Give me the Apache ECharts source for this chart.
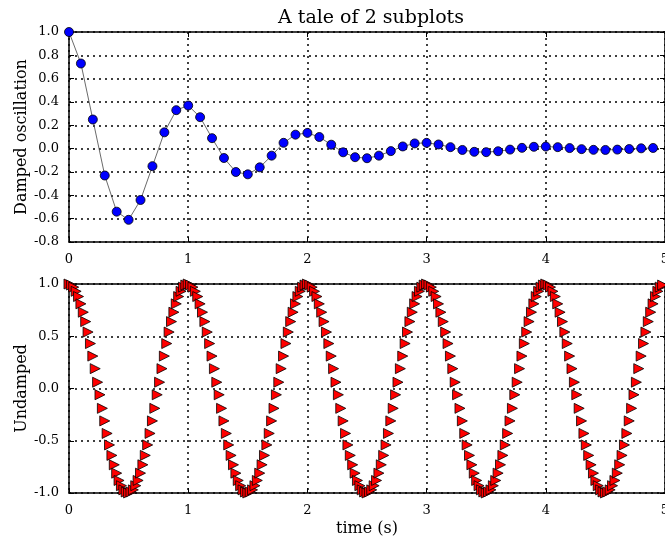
<!DOCTYPE html>
<html lang="en">
<head>
    <meta charset="UTF-8">
    <title>A tale of 2 subplots</title>
    <script src="https://cdn.jsdelivr.net/npm/echarts@6.0.0/dist/echarts.min.js"></script>
    <style>
        html, body { margin: 0; padding: 0; background: #fff; }
    </style>
</head>
<body>
    <div id="chart" style="width: 665px; height: 537px;"></div>
    <script>
        // top plot: damped oscillation, sampled every 0.1 s
        const t1 = [
            0, 0.1, 0.2, 0.3, 0.4, 0.5, 0.6, 0.7, 0.8, 0.9,
            1, 1.1, 1.2, 1.3, 1.4, 1.5, 1.6, 1.7, 1.8, 1.9,
            2, 2.1, 2.2, 2.3, 2.4, 2.5, 2.6, 2.7, 2.8, 2.9,
            3, 3.1, 3.2, 3.3, 3.4, 3.5, 3.6, 3.7, 3.8, 3.9,
            4, 4.1, 4.2, 4.3, 4.4, 4.5, 4.6, 4.7, 4.8, 4.9
        ];
        const damped = [
            1.0, 0.73, 0.25, -0.23, -0.54, -0.61, -0.44, -0.15, 0.14, 0.33,
            0.37, 0.27, 0.09, -0.08, -0.20, -0.22, -0.16, -0.06, 0.05, 0.12,
            0.135, 0.10, 0.034, -0.031, -0.073, -0.082, -0.06, -0.021, 0.019, 0.045,
            0.05, 0.036, 0.013, -0.011, -0.027, -0.03, -0.022, -0.008, 0.007, 0.016,
            0.018, 0.013, 0.005, -0.004, -0.01, -0.011, -0.008, -0.003, 0.003, 0.006
        ];

        // bottom plot: undamped, sampled every 0.02 s
        const t2 = [
            0, 0.02, 0.04, 0.06, 0.08, 0.1, 0.12, 0.14, 0.16, 0.18,
            0.2, 0.22, 0.24, 0.26, 0.28, 0.3, 0.32, 0.34, 0.36, 0.38,
            0.4, 0.42, 0.44, 0.46, 0.48, 0.5, 0.52, 0.54, 0.56, 0.58,
            0.6, 0.62, 0.64, 0.66, 0.68, 0.7, 0.72, 0.74, 0.76, 0.78,
            0.8, 0.82, 0.84, 0.86, 0.88, 0.9, 0.92, 0.94, 0.96, 0.98,
            1, 1.02, 1.04, 1.06, 1.08, 1.1, 1.12, 1.14, 1.16, 1.18,
            1.2, 1.22, 1.24, 1.26, 1.28, 1.3, 1.32, 1.34, 1.36, 1.38,
            1.4, 1.42, 1.44, 1.46, 1.48, 1.5, 1.52, 1.54, 1.56, 1.58,
            1.6, 1.62, 1.64, 1.66, 1.68, 1.7, 1.72, 1.74, 1.76, 1.78,
            1.8, 1.82, 1.84, 1.86, 1.88, 1.9, 1.92, 1.94, 1.96, 1.98,
            2, 2.02, 2.04, 2.06, 2.08, 2.1, 2.12, 2.14, 2.16, 2.18,
            2.2, 2.22, 2.24, 2.26, 2.28, 2.3, 2.32, 2.34, 2.36, 2.38,
            2.4, 2.42, 2.44, 2.46, 2.48, 2.5, 2.52, 2.54, 2.56, 2.58,
            2.6, 2.62, 2.64, 2.66, 2.68, 2.7, 2.72, 2.74, 2.76, 2.78,
            2.8, 2.82, 2.84, 2.86, 2.88, 2.9, 2.92, 2.94, 2.96, 2.98,
            3, 3.02, 3.04, 3.06, 3.08, 3.1, 3.12, 3.14, 3.16, 3.18,
            3.2, 3.22, 3.24, 3.26, 3.28, 3.3, 3.32, 3.34, 3.36, 3.38,
            3.4, 3.42, 3.44, 3.46, 3.48, 3.5, 3.52, 3.54, 3.56, 3.58,
            3.6, 3.62, 3.64, 3.66, 3.68, 3.7, 3.72, 3.74, 3.76, 3.78,
            3.8, 3.82, 3.84, 3.86, 3.88, 3.9, 3.92, 3.94, 3.96, 3.98,
            4, 4.02, 4.04, 4.06, 4.08, 4.1, 4.12, 4.14, 4.16, 4.18,
            4.2, 4.22, 4.24, 4.26, 4.28, 4.3, 4.32, 4.34, 4.36, 4.38,
            4.4, 4.42, 4.44, 4.46, 4.48, 4.5, 4.52, 4.54, 4.56, 4.58,
            4.6, 4.62, 4.64, 4.66, 4.68, 4.7, 4.72, 4.74, 4.76, 4.78,
            4.8, 4.82, 4.84, 4.86, 4.88, 4.9, 4.92, 4.94, 4.96, 4.98
        ];
        const undamped = [
            1.00, 0.99, 0.97, 0.93, 0.88, 0.81, 0.73, 0.64, 0.54, 0.43, 0.31, 0.19, 0.06, -0.06, -0.19, -0.31, -0.43, -0.54, -0.64, -0.73, -0.81, -0.88, -0.93, -0.97, -0.99,
            -1.00, -0.99, -0.97, -0.93, -0.88, -0.81, -0.73, -0.64, -0.54, -0.43, -0.31, -0.19, -0.06, 0.06, 0.19, 0.31, 0.43, 0.54, 0.64, 0.73, 0.81, 0.88, 0.93, 0.97, 0.99,
            1.00, 0.99, 0.97, 0.93, 0.88, 0.81, 0.73, 0.64, 0.54, 0.43, 0.31, 0.19, 0.06, -0.06, -0.19, -0.31, -0.43, -0.54, -0.64, -0.73, -0.81, -0.88, -0.93, -0.97, -0.99,
            -1.00, -0.99, -0.97, -0.93, -0.88, -0.81, -0.73, -0.64, -0.54, -0.43, -0.31, -0.19, -0.06, 0.06, 0.19, 0.31, 0.43, 0.54, 0.64, 0.73, 0.81, 0.88, 0.93, 0.97, 0.99,
            1.00, 0.99, 0.97, 0.93, 0.88, 0.81, 0.73, 0.64, 0.54, 0.43, 0.31, 0.19, 0.06, -0.06, -0.19, -0.31, -0.43, -0.54, -0.64, -0.73, -0.81, -0.88, -0.93, -0.97, -0.99,
            -1.00, -0.99, -0.97, -0.93, -0.88, -0.81, -0.73, -0.64, -0.54, -0.43, -0.31, -0.19, -0.06, 0.06, 0.19, 0.31, 0.43, 0.54, 0.64, 0.73, 0.81, 0.88, 0.93, 0.97, 0.99,
            1.00, 0.99, 0.97, 0.93, 0.88, 0.81, 0.73, 0.64, 0.54, 0.43, 0.31, 0.19, 0.06, -0.06, -0.19, -0.31, -0.43, -0.54, -0.64, -0.73, -0.81, -0.88, -0.93, -0.97, -0.99,
            -1.00, -0.99, -0.97, -0.93, -0.88, -0.81, -0.73, -0.64, -0.54, -0.43, -0.31, -0.19, -0.06, 0.06, 0.19, 0.31, 0.43, 0.54, 0.64, 0.73, 0.81, 0.88, 0.93, 0.97, 0.99,
            1.00, 0.99, 0.97, 0.93, 0.88, 0.81, 0.73, 0.64, 0.54, 0.43, 0.31, 0.19, 0.06, -0.06, -0.19, -0.31, -0.43, -0.54, -0.64, -0.73, -0.81, -0.88, -0.93, -0.97, -0.99,
            -1.00, -0.99, -0.97, -0.93, -0.88, -0.81, -0.73, -0.64, -0.54, -0.43, -0.31, -0.19, -0.06, 0.06, 0.19, 0.31, 0.43, 0.54, 0.64, 0.73, 0.81, 0.88, 0.93, 0.97, 0.99
        ];

        const serif = 'DejaVu Serif';
        const gridLine = { show: true, lineStyle: { color: '#000', width: 1.5, type: [2, 4] } };
        const tick = { show: true, inside: true, length: 5, lineStyle: { color: '#000' } };
        const border = { show: true, onZero: false, lineStyle: { color: '#000', width: 1.5 } };

        function xAxisFor(gridIndex, name) {
            return {
                type: 'value', gridIndex: gridIndex, min: 0, max: 5, interval: 1,
                name: name, nameLocation: 'middle', nameGap: 28, nameMoveOverlap: false,
                nameTextStyle: { fontFamily: serif, fontSize: 16, color: '#000' },
                axisLine: border, axisTick: tick,
                axisLabel: { fontFamily: serif, fontSize: 13, color: '#000', margin: 11 },
                splitLine: gridLine
            };
        }
        function yAxisFor(gridIndex, name, min, max, step) {
            return {
                type: 'value', gridIndex: gridIndex, min: min, max: max, interval: step,
                name: name, nameLocation: 'middle', nameGap: 39, nameRotate: 90, nameMoveOverlap: false,
                nameTextStyle: { fontFamily: serif, fontSize: 16, color: '#000' },
                axisLine: border, axisTick: tick,
                axisLabel: { fontFamily: serif, fontSize: 13, color: '#000', margin: 10,
                    formatter: v => v.toFixed(1) },
                splitLine: gridLine
            };
        }
        // tick-only mirror axes on the top and right edges
        function xMirror(gridIndex) {
            return { type: 'value', gridIndex: gridIndex, position: 'top', min: 0, max: 5, interval: 1,
                axisLine: border, axisTick: tick, axisLabel: { show: false }, splitLine: { show: false } };
        }
        function yMirror(gridIndex, min, max, step) {
            return { type: 'value', gridIndex: gridIndex, position: 'right', min: min, max: max, interval: step,
                axisLine: border, axisTick: tick, axisLabel: { show: false }, splitLine: { show: false } };
        }

        const chart = echarts.init(document.getElementById('chart'));
        chart.setOption({
            animation: false,
            title: {
                text: 'A tale of 2 subplots', left: 366, top: 4, textAlign: 'center',
                textStyle: { fontFamily: serif, fontSize: 19, fontWeight: 'normal', color: '#000' }
            },
            grid: [
                { left: 69, right: 0, top: 32, height: 210, outerBoundsMode: 'none' },
                { left: 69, right: 0, top: 284, height: 209, outerBoundsMode: 'none' }
            ],
            xAxis: [xAxisFor(0, ''), xAxisFor(1, 'time (s)'), xMirror(0), xMirror(1)],
            yAxis: [
                yAxisFor(0, 'Damped oscillation', -0.8, 1.0, 0.2),
                yAxisFor(1, 'Undamped', -1, 1, 0.5),
                yMirror(0, -0.8, 1.0, 0.2),
                yMirror(1, -1, 1, 0.5)
            ],
            series: [
                {
                    type: 'line', xAxisIndex: 0, yAxisIndex: 0,
                    data: t1.map((t, i) => [t, damped[i]]),
                    symbol: 'circle', symbolSize: 9, showAllSymbol: true,
                    lineStyle: { color: '#444', width: 0.8 },
                    itemStyle: { color: '#0000ff', borderColor: '#000', borderWidth: 0.8 }
                },
                {
                    type: 'scatter', xAxisIndex: 1, yAxisIndex: 1,
                    data: t2.map((t, i) => [t, undamped[i]]),
                    symbol: 'triangle', symbolSize: 10, symbolRotate: -90,
                    itemStyle: { color: '#ff0000', borderColor: '#000', borderWidth: 0.8, opacity: 1 }
                }
            ]
        });
    </script>
</body>
</html>
